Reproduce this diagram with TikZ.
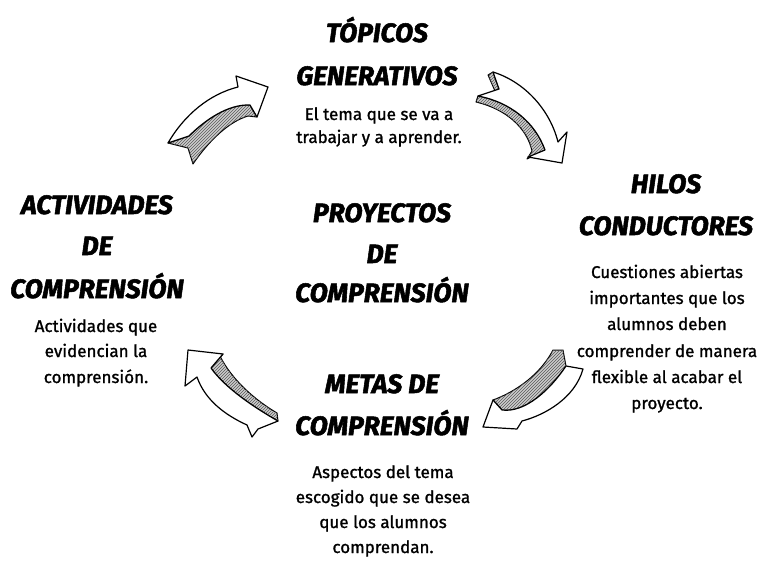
\documentclass[tikz,border=0pt]{standalone}
\usepackage{fontspec}
\setmainfont{Fira Sans}
\newfontfamily\headfont{Fira Sans}[FakeBold=2]
\newfontfamily\bodyfont{Fira Sans}[FakeBold=1.2]
\usetikzlibrary{patterns}
\tikzset{
 headtxt/.style={font=\headfont\fontsize{26.5}{30}\selectfont\bfseries\itshape, inner sep=0pt, anchor=base},
 bodytxt/.style={font=\bodyfont\fontsize{17}{20}\selectfont, inner sep=0pt, anchor=base},
 face/.style={fill=white, draw=black, line width=1.2pt, line join=round},
 band/.style={fill=gray!40, draw=black, line width=1pt, line join=round,
   postaction={pattern=north east lines, pattern color=black!65}},
}
\begin{document}
\begin{tikzpicture}[x=1pt,y=-1pt]
\useasboundingbox (0,0) rectangle (764,562);

% ---- arrow top-left
\path[band] (168,143) -- (189,136) .. controls (205,120) and (228,104) .. (250,105) -- (257,117) -- (248,116) .. controls (228,122) and (208,142) .. (193,164) -- (188,148) -- cycle;
\path[face] (168,143) .. controls (185,114) and (210,94) .. (238,87) -- (236,76) -- (268,87) -- (257,117) -- (250,105) .. controls (228,104) and (205,120) .. (189,136) -- cycle;

% ---- arrow top-right
\path[band] (478,96) -- (476,102) .. controls (506,109) and (527,128) .. (532,151) -- (527,159) -- (545,150) .. controls (535,122) and (510,102) .. (478,96) -- cycle;
\path[band] (488,75) -- (493,72) -- (499,89) -- (495,91) -- cycle;
\path[face] (493,72) .. controls (525,82) and (550,110) .. (558,142) -- (567,132) -- (562,163) -- (528,157) -- (545,150) .. controls (535,122) and (510,102) .. (478,96) -- (499,89) -- cycle;

% ---- arrow bottom-right
\path[band] (553,350) -- (563,350) -- (566,366) .. controls (550,390) and (525,413) .. (502,410) -- (493,400) .. controls (515,392) and (540,375) .. (553,350) -- cycle;
\path[face] (583,369) -- (566,366) .. controls (550,390) and (525,413) .. (502,410) -- (493,400) -- (483,427) -- (517,429) -- (522,421) .. controls (545,415) and (575,398) .. (583,369) -- cycle;

% ---- arrow bottom-left
\path[band] (211,368) .. controls (225,388) and (255,408) .. (278,421) -- (277,413) .. controls (255,400) and (232,380) .. (220,356) -- (223,354) -- cycle;
\path[face] (188,350) -- (185,386) -- (197,377) .. controls (205,400) and (225,415) .. (247,425) -- (252,437) -- (258,429) -- (278,421) .. controls (255,408) and (225,388) .. (211,368) -- (223,354) -- cycle;

% ---- Tópicos generativos
\node[headtxt] (t1) at (377,42) {TÓPICOS};
\node[headtxt] (t2) at (377,85) {GENERATIVOS};
\node[bodytxt] (t3) at (379,120) {El tema que se va a};
\node[bodytxt] (t4) at (379,143) {trabajar y a aprender.};

% ---- Hilos conductores
\node[headtxt] (h1) at (666,193) {HILOS};
\node[headtxt] (h2) at (666,235) {CONDUCTORES};
\node[bodytxt] (h3) at (667,278) {Cuestiones abiertas};
\node[bodytxt] (h4) at (667,304) {importantes que los};
\node[bodytxt] (h5) at (667,330) {alumnos deben};
\node[bodytxt] (h6) at (667,357) {comprender de manera};
\node[bodytxt] (h7) at (667,383) {flexible al acabar el};
\node[bodytxt] (h8) at (667,409) {proyecto.};

% ---- Actividades de comprensión
\node[headtxt] (a1) at (97,214) {ACTIVIDADES};
\node[headtxt] (a2) at (97,255) {DE};
\node[headtxt] (a3) at (97,298) {COMPRENSIÓN};
\node[bodytxt] (a4) at (96,332) {Actividades que};
\node[bodytxt] (a5) at (96,357) {evidencian la};
\node[bodytxt] (a6) at (96,383) {comprensión.};

% ---- Proyectos de comprensión
\node[headtxt] (p1) at (382,222) {PROYECTOS};
\node[headtxt] (p2) at (382,263) {DE};
\node[headtxt] (p3) at (382,302) {COMPRENSIÓN};

% ---- Metas de comprensión
\node[headtxt] (m1) at (382,393) {METAS DE};
\node[headtxt] (m2) at (382,435) {COMPRENSIÓN};
\node[bodytxt] (m3) at (383,478) {Aspectos del tema};
\node[bodytxt] (m4) at (383,503) {escogido que se desea};
\node[bodytxt] (m5) at (383,528) {que los alumnos};
\node[bodytxt] (m6) at (383,553) {comprendan.};
\end{tikzpicture}
\end{document}
